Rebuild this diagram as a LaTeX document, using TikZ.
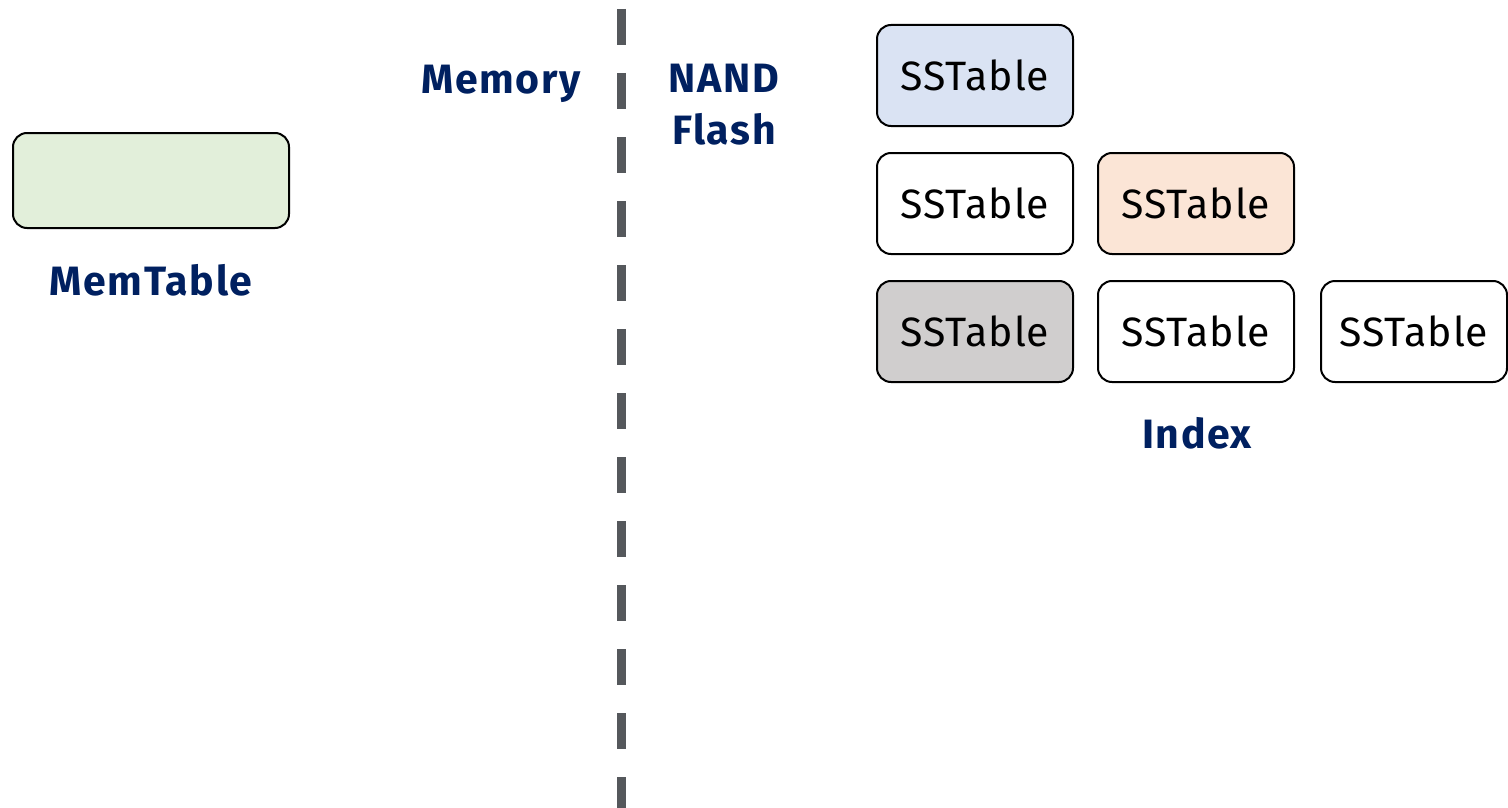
\documentclass[tikz,border=0pt]{standalone}
\usepackage{fontspec}
\setmainfont{Fira Sans}
\newfontfamily\regfont[LetterSpace=2]{Fira Sans}
\newfontfamily\boldfont[LetterSpace=4]{Fira Sans Bold}
\definecolor{navy}{HTML}{002060}
\definecolor{dashgray}{HTML}{55585C}
\definecolor{fblue}{HTML}{DAE3F3}
\definecolor{forange}{HTML}{FBE5D6}
\definecolor{fgray}{HTML}{D0CECE}
\definecolor{fgreen}{HTML}{E2EFDA}
\begin{document}
\begin{tikzpicture}[x=1pt,y=-1pt,
  sst/.style={draw=black,line width=2pt,rounded corners=14pt,minimum width=196pt,minimum height=101pt,inner sep=0pt,font=\regfont\fontsize{41}{48}\selectfont},
  lbl/.style={text=navy,font=\boldfont\fontsize{41}{52}\selectfont,align=center,inner sep=0pt}]
\useasboundingbox (0,0) rectangle (1508,808);
\node[sst,fill=fgreen,minimum width=276pt,minimum height=95pt] (mem) at (151,180.5) {};
\node[lbl,anchor=base] (memlbl) at (151,295) {MemTable};
\node[lbl,anchor=base] (memory) at (501,94) {Memory};
\node[lbl] (nand) at (724,105) {NAND\\Flash};
\coordinate (dtop) at (621.5,9);
\coordinate (dbot) at (621.5,808);
\draw[dashgray,line width=9pt,dash pattern=on 36pt off 28pt] (dtop) -- (dbot);
\node[sst,fill=fblue] (s1) at (975,75.5) {SSTable};
\node[sst,fill=white] (s2) at (975,203.5) {SSTable};
\node[sst,fill=forange] (s3) at (1196,203.5) {SSTable};
\node[sst,fill=fgray] (s4) at (975,331.5) {SSTable};
\node[sst,fill=white] (s5) at (1196,331.5) {SSTable};
\node[sst,fill=white,minimum width=186pt] (s6) at (1414,331.5) {SSTable};
\node[lbl,anchor=base] (idx) at (1197,448) {Index};
\end{tikzpicture}
\end{document}
